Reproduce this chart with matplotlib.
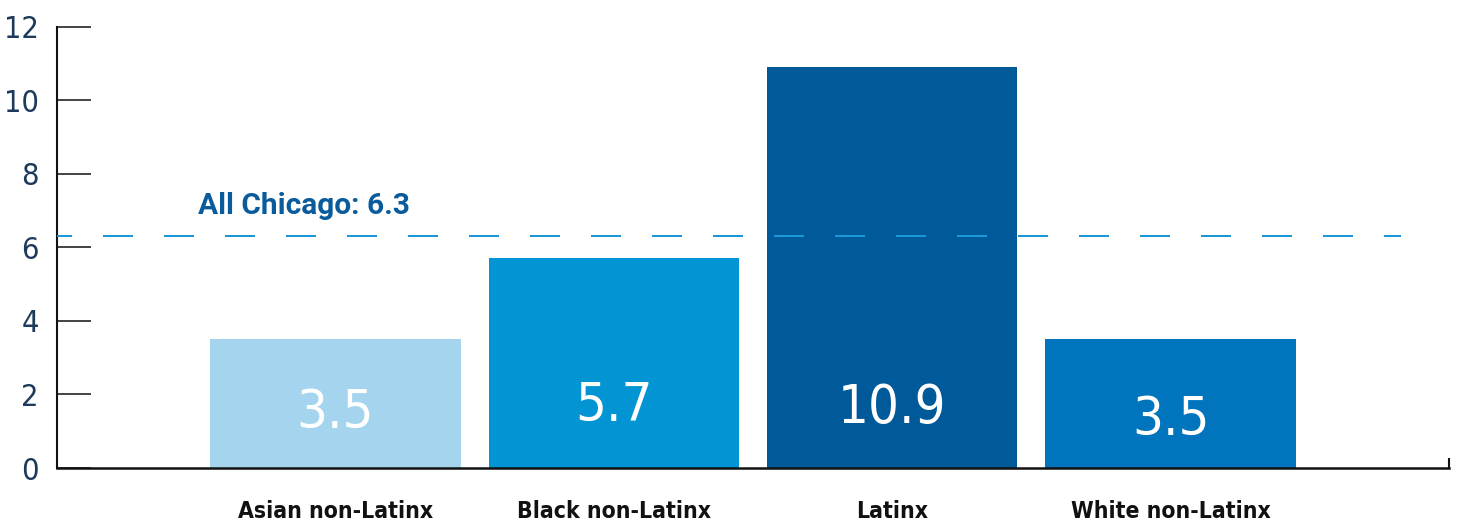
import matplotlib
matplotlib.use("Agg")
import matplotlib.pyplot as plt
from matplotlib.ticker import FixedLocator

# Data
categories = ["Asian non-Latinx", "Black non-Latinx", "Latinx", "White non-Latinx"]
values = [3.5, 5.7, 10.9, 3.5]
city_average = 6.3
city_label = "All Chicago: 6.3"
y_ticks = [0, 2, 4, 6, 8, 10, 12]

bar_colors = ["#a5d5ee", "#0394d3", "#005a9a", "#0074bc"]
# vertical placement of the in-bar value labels (data units)
value_label_y = [1.5, 1.7, 1.63, 1.3]

narrow = ["Liberation Sans Narrow", "DejaVu Sans"]

fig = plt.figure(figsize=(14.62, 5.29), dpi=100)
ax = fig.add_axes([57 / 1462, 61 / 529, (1449 - 57) / 1462, (468 - 26.5) / 529])

x = list(range(len(categories)))
ax.bar(x, values, width=0.9, color=bar_colors, zorder=2)

for xi, v, ly in zip(x, values, value_label_y):
    ax.text(xi, ly, f"{v}", ha="center", va="center", color="white",
            fontsize=39, family=narrow, fontstretch="condensed", zorder=4)

# city-wide reference line
ax.plot([-1, 3.826], [city_average, city_average], color="#1a97d5", lw=1.44,
        linestyle=(7.5, (15, 15.5)), zorder=3, clip_on=False)
ax.annotate(city_label, xy=(-0.494, city_average), xytext=(0, 16),
            textcoords="offset points", ha="left", va="baseline",
            color="#0a5b9c", fontsize=21.5, family="Roboto", fontweight="bold")

ax.set_xlim(-1, 4)
ax.set_ylim(0, 12)

for side in ("top", "right"):
    ax.spines[side].set_visible(False)
ax.spines["left"].set_linewidth(1.5)
ax.spines["bottom"].set_linewidth(1.8)
ax.spines["left"].set_color("#111111")
ax.spines["bottom"].set_color("#111111")

ax.set_yticks(y_ticks)
ax.set_yticklabels([str(t) for t in y_ticks])
ax.tick_params(axis="y", direction="in", length=24.5, width=1.1, color="#111111",
               pad=13, labelsize=22, labelcolor="#1d3a5c")
for lab in ax.get_yticklabels():
    lab.set_family(narrow)
    lab.set_fontstretch("condensed")

ax.set_xticks(x)
ax.set_xticklabels(categories)
ax.tick_params(axis="x", which="major", length=0, pad=23, labelsize=16.5,
               labelcolor="#111111")
for lab in ax.get_xticklabels():
    lab.set_family(narrow)
    lab.set_fontstretch("condensed")
    lab.set_fontweight("bold")

# closing tick at the right end of the baseline
ax.xaxis.set_minor_locator(FixedLocator([4]))
ax.tick_params(axis="x", which="minor", direction="in", length=7.2, width=1.5,
               color="#111111")

fig.savefig("out.png", dpi=100)
